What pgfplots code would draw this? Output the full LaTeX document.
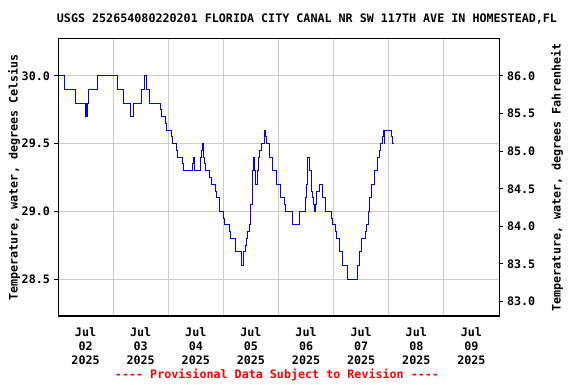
\documentclass[border=0pt]{standalone}
\usepackage{fontspec}
\setmainfont{DejaVu Sans Mono}
\usepackage{pgfplots}
\usepackage{pgfplotstable}
\pgfplotsset{compat=1.18}
\pgfplotstableread{
t v
0.010 30.0
0.114 29.9
0.321 29.8
0.495 29.7
0.504 29.8
0.513 29.7
0.535 29.8
0.562 29.9
0.717 30.0
1.079 29.9
1.192 29.8
1.315 29.7
1.373 29.8
1.518 29.9
1.578 30.0
1.602 29.9
1.656 29.8
1.863 29.75
1.881 29.7
1.946 29.65
1.965 29.6
2.055 29.55
2.073 29.5
2.146 29.45
2.164 29.4
2.255 29.35
2.273 29.3
2.436 29.35
2.454 29.4
2.472 29.3
2.576 29.4
2.607 29.45
2.625 29.5
2.643 29.4
2.661 29.35
2.679 29.3
2.757 29.25
2.776 29.2
2.853 29.15
2.879 29.1
2.926 29.0
2.999 28.95
3.017 28.9
3.115 28.85
3.133 28.8
3.216 28.7
3.320 28.6
3.361 28.7
3.410 28.75
3.428 28.8
3.441 28.85
3.465 28.9
3.483 28.95
3.501 29.05
3.525 29.3
3.543 29.4
3.556 29.35
3.569 29.3
3.580 29.2
3.628 29.3
3.641 29.4
3.659 29.45
3.688 29.5
3.737 29.55
3.743 29.6
3.768 29.55
3.779 29.5
3.833 29.4
3.888 29.3
3.960 29.2
4.033 29.15
4.045 29.1
4.105 29.05
4.123 29.0
4.250 28.9
4.377 29.0
4.486 29.1
4.512 29.2
4.535 29.4
4.559 29.3
4.595 29.15
4.621 29.1
4.639 29.05
4.650 29.0
4.675 29.05
4.698 29.15
4.735 29.2
4.807 29.1
4.856 29.0
4.958 28.95
4.976 28.9
5.043 28.85
5.061 28.8
5.103 28.7
5.170 28.6
5.248 28.5
5.430 28.6
5.466 28.65
5.478 28.7
5.509 28.8
5.575 28.85
5.593 28.9
5.629 29.0
5.647 29.1
5.684 29.2
5.738 29.3
5.800 29.4
5.836 29.45
5.854 29.5
5.883 29.55
5.901 29.6
5.919 29.5
5.928 29.6
6.041 29.55
6.064 29.5
6.090 29.5
}\tempdata
\definecolor{gridgray}{RGB}{204,204,204}
\definecolor{lineblue}{RGB}{0,0,255}
\definecolor{provred}{RGB}{255,0,0}
\begin{document}
\fontsize{11.7pt}{13.5pt}\selectfont\bfseries
\begin{tikzpicture}
\begin{axis}[scale only axis,
  width=441pt, height=277pt,
  xmin=0, xmax=8, ymin=28.2267, ymax=30.2733,
  axis line style={black, line width=1pt},
  /pgf/number format/assume math mode=true,
  ticklabel style={font=\fontsize{11.7pt}{14pt}\selectfont\bfseries},
  xtick={0,1,2,3,4,5,6,7,8},
  xticklabels={{Jul\\02\\2025},{Jul\\03\\2025},{Jul\\04\\2025},{Jul\\05\\2025},{Jul\\06\\2025},{Jul\\07\\2025},{Jul\\08\\2025},{Jul\\09\\2025},{}},
  xticklabel style={xshift=27.56pt, align=center, yshift=-4pt},
  xtick style={draw=none},
  ytick={28.5,29,29.5,30},
  yticklabels={28.5,29.0,29.5,30.0},
  ytick pos=left,
  tick align=outside, major tick length=4pt,
  ytick style={black, line width=1pt},
  grid=major, grid style={color=gridgray, line width=1pt},
  extra y ticks={28.3333,28.6111,28.8889,29.1667,29.4444,29.7222,30.0},
  extra y tick labels={83.0,83.5,84.0,84.5,85.0,85.5,86.0},
  extra y tick style={ytick pos=right, yticklabel pos=right, grid=none},
  clip=true,
]
\addplot[const plot, color=lineblue, line width=1pt] table[x=t,y=v] {\tempdata};
\coordinate (SW) at (rel axis cs:0,0);
\coordinate (NE) at (rel axis cs:1,1);
\end{axis}
\pgfresetboundingbox
\useasboundingbox ([shift={(-58pt,-68pt)}]SW) rectangle ([shift={(77pt,39pt)}]NE);
\begin{scope}[shift={([shift={(-58pt,-68pt)}]SW)}, x=1pt, y=1pt]
\node at (307,365) {USGS 252654080220201 FLORIDA CITY CANAL NR SW 117TH AVE IN HOMESTEAD,FL};
\node[rotate=90] at (14,206.5) {Temperature, water, degrees Celsius};
\node[rotate=90] at (557,206.5) {Temperature, water, degrees Fahrenheit};
\node[text=provred] at (277,9) {-{}-{}-{}- Provisional Data Subject to Revision -{}-{}-{}-};
\end{scope}
\end{tikzpicture}
\end{document}
